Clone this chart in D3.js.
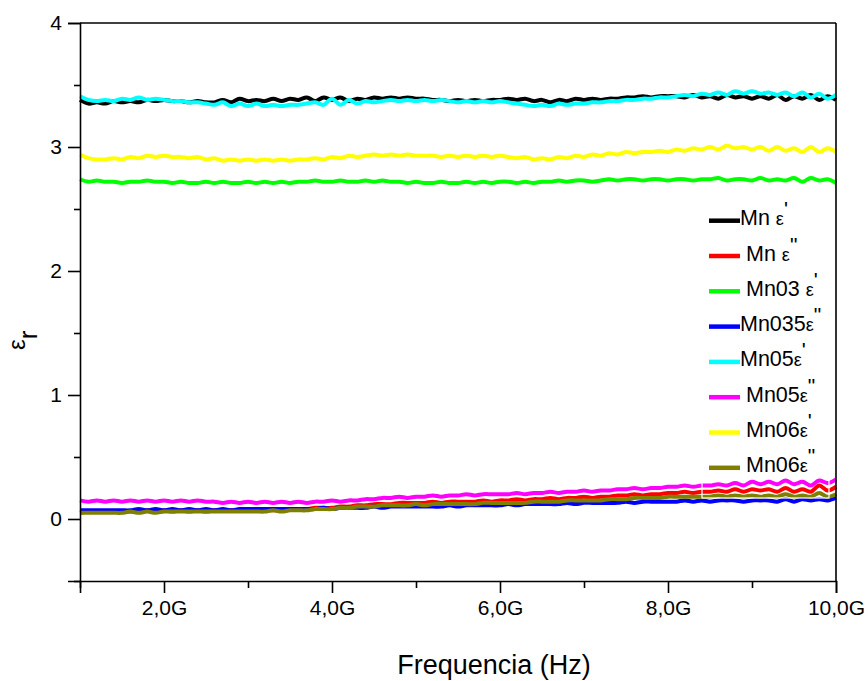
<!DOCTYPE html>
<html><head><meta charset="utf-8">
<script src="https://cdn.jsdelivr.net/npm/d3@7"></script>
<style>body{margin:0;background:#fff}text{font-family:"Liberation Sans",Arial,sans-serif;fill:#000}.tick text{font-size:21px}</style>
</head><body><svg id="c" width="868" height="681"></svg>
<script>
const freqGHz = [1.0,1.1,1.2,1.3,1.4,1.5,1.6,1.7,1.8,1.9,2.0,2.1,2.2,2.3,2.4,2.5,2.6,2.7,2.8,2.9,3.0,3.1,3.2,3.3,3.4,3.5,3.6,3.7,3.8,3.9,4.0,4.1,4.2,4.3,4.4,4.5,4.6,4.7,4.8,4.9,5.0,5.1,5.2,5.3,5.4,5.5,5.6,5.7,5.8,5.9,6.0,6.1,6.2,6.3,6.4,6.5,6.6,6.7,6.8,6.9,7.0,7.1,7.2,7.3,7.4,7.5,7.6,7.7,7.8,7.9,8.0,8.1,8.2,8.3,8.4,8.5,8.6,8.7,8.8,8.9,9.0,9.1,9.2,9.3,9.4,9.5,9.6,9.7,9.8,9.9,10.0];

const mnEps1 = [3.38,3.35,3.36,3.35,3.37,3.36,3.37,3.36,3.38,3.37,3.38, 3.37,3.37,3.36,3.37,3.36,3.36,3.38,3.36,3.39,3.37,3.38, 3.37,3.39,3.37,3.39,3.38,3.40,3.37,3.40,3.38,3.40, 3.37,3.39,3.38,3.40,3.39,3.40,3.39,3.40,3.39,3.39, 3.38,3.38,3.37,3.38,3.37,3.38,3.37,3.38,3.38,3.39, 3.38,3.39,3.37,3.38,3.36,3.38,3.37,3.39,3.38,3.39, 3.38,3.39,3.39,3.40,3.40,3.41,3.40,3.41,3.41,3.41, 3.40,3.42,3.40,3.41,3.39,3.42,3.40,3.41,3.39,3.41, 3.39,3.42,3.38,3.41,3.39,3.42,3.38,3.41,3.38,3.42];
const mnEps2 = [0.05,0.06,0.06,0.06,0.06,0.06,0.06,0.06,0.07,0.06,0.07, 0.06,0.07,0.06,0.07,0.06,0.07,0.07,0.07,0.07,0.07,0.07, 0.08,0.07,0.08,0.08,0.08,0.08,0.09,0.09,0.09,0.10, 0.10,0.11,0.11,0.12,0.12,0.12,0.13,0.13,0.13,0.13, 0.14,0.13,0.14,0.14,0.14,0.14,0.15,0.14,0.15,0.15, 0.16,0.15,0.16,0.16,0.17,0.16,0.17,0.17,0.18,0.17, 0.18,0.18,0.19,0.19,0.20,0.19,0.20,0.20,0.21,0.21, 0.22,0.21,0.22,0.22,0.23,0.22,0.24,0.22,0.24,0.23, 0.24,0.22,0.25,0.22,0.24,0.22,0.27,0.23,0.26,0.25];
const mn03Eps1 = [2.74,2.72,2.73,2.72,2.72,2.71,2.72,2.72,2.73,2.72,2.72, 2.71,2.72,2.71,2.71,2.72,2.71,2.72,2.71,2.71,2.72,2.71, 2.72,2.71,2.72,2.71,2.72,2.72,2.73,2.72,2.72,2.73, 2.72,2.72,2.73,2.72,2.73,2.72,2.72,2.71,2.72,2.71, 2.71,2.72,2.71,2.71,2.72,2.71,2.72,2.71,2.72,2.72, 2.71,2.72,2.71,2.72,2.72,2.73,2.72,2.73,2.73,2.72, 2.73,2.74,2.73,2.74,2.74,2.73,2.74,2.74,2.73,2.74, 2.74,2.73,2.74,2.74,2.75,2.73,2.74,2.74,2.73,2.75, 2.73,2.74,2.73,2.75,2.72,2.75,2.73,2.74,2.71,2.72];
const mn035Eps2 = [0.07,0.07,0.07,0.07,0.07,0.07,0.07,0.08,0.07,0.08,0.07, 0.08,0.07,0.08,0.07,0.08,0.07,0.08,0.07,0.08,0.08,0.08, 0.08,0.08,0.08,0.08,0.08,0.08,0.08,0.09,0.08,0.09, 0.09,0.09,0.09,0.10,0.09,0.10,0.10,0.10,0.10,0.10, 0.10,0.10,0.11,0.10,0.11,0.11,0.11,0.11,0.11,0.12, 0.11,0.12,0.12,0.12,0.12,0.12,0.13,0.12,0.13,0.13, 0.13,0.13,0.13,0.14,0.13,0.14,0.14,0.14,0.14,0.14, 0.15,0.14,0.15,0.14,0.15,0.15,0.15,0.14,0.15,0.15, 0.15,0.14,0.16,0.14,0.16,0.15,0.16,0.15,0.17,0.18];
const mn05Eps1 = [3.41,3.38,3.37,3.38,3.37,3.39,3.38,3.40,3.38,3.39,3.38, 3.37,3.37,3.36,3.36,3.35,3.34,3.36,3.33,3.35,3.33,3.35, 3.33,3.34,3.33,3.34,3.34,3.35,3.36,3.34,3.39,3.34, 3.38,3.35,3.37,3.36,3.37,3.38,3.37,3.38,3.37,3.38, 3.37,3.38,3.37,3.36,3.37,3.36,3.37,3.36,3.37,3.36, 3.35,3.34,3.33,3.34,3.33,3.35,3.34,3.35,3.35,3.36, 3.36,3.37,3.37,3.38,3.38,3.39,3.39,3.40,3.40,3.41, 3.42,3.41,3.43,3.42,3.44,3.42,3.45,3.43,3.45,3.43, 3.44,3.42,3.44,3.41,3.44,3.40,3.43,3.39,3.42,3.35];
const mn05Eps2 = [0.15,0.14,0.15,0.14,0.15,0.14,0.15,0.14,0.15,0.14,0.15, 0.14,0.15,0.14,0.15,0.14,0.14,0.13,0.14,0.13,0.14,0.13, 0.14,0.13,0.14,0.13,0.14,0.13,0.14,0.14,0.15,0.14, 0.15,0.15,0.16,0.16,0.17,0.17,0.18,0.17,0.18,0.18, 0.19,0.18,0.19,0.19,0.20,0.19,0.20,0.20,0.20,0.20, 0.21,0.20,0.21,0.21,0.22,0.21,0.22,0.22,0.23,0.22, 0.23,0.23,0.24,0.24,0.25,0.24,0.25,0.25,0.26,0.26, 0.27,0.26,0.27,0.27,0.28,0.27,0.29,0.27,0.30,0.28, 0.30,0.28,0.31,0.28,0.30,0.27,0.31,0.29,0.32,0.31];
const mn06Eps1 = [2.94,2.91,2.90,2.90,2.91,2.90,2.92,2.91,2.93,2.92,2.93, 2.92,2.92,2.91,2.92,2.90,2.91,2.89,2.90,2.89,2.90,2.89, 2.90,2.89,2.90,2.89,2.90,2.90,2.91,2.90,2.92,2.91, 2.93,2.92,2.93,2.94,2.93,2.94,2.93,2.94,2.93,2.93, 2.93,2.92,2.93,2.92,2.93,2.92,2.93,2.92,2.93,2.92, 2.91,2.92,2.90,2.91,2.90,2.92,2.91,2.93,2.92,2.94, 2.93,2.95,2.94,2.96,2.95,2.96,2.96,2.97,2.96,2.98, 2.97,2.99,2.98,3.00,2.98,3.01,2.99,3.00,2.98,3.00, 2.97,3.00,2.97,2.99,2.96,3.00,2.96,2.99,2.96,2.93];
const mn06Eps2 = [0.05,0.05,0.05,0.05,0.05,0.05,0.06,0.05,0.06,0.05,0.06, 0.06,0.06,0.06,0.06,0.06,0.06,0.06,0.06,0.06,0.06,0.06, 0.06,0.07,0.06,0.07,0.07,0.07,0.08,0.08,0.08,0.09, 0.09,0.10,0.10,0.10,0.11,0.11,0.11,0.11,0.12,0.11, 0.12,0.12,0.12,0.12,0.12,0.12,0.13,0.13,0.13,0.13, 0.13,0.13,0.14,0.14,0.14,0.14,0.15,0.15,0.15,0.15, 0.15,0.16,0.16,0.16,0.17,0.17,0.17,0.17,0.18,0.18, 0.18,0.18,0.18,0.18,0.19,0.18,0.19,0.18,0.19,0.18, 0.19,0.18,0.20,0.18,0.19,0.18,0.21,0.18,0.20,0.21];

const seriesNames = ["Mn ε'", "Mn ε\"", "Mn03 ε'", "Mn035ε\"", "Mn05ε'", "Mn05ε\"", "Mn06ε'", "Mn06ε\""];
const seriesValues = [mnEps1, mnEps2, mn03Eps1, mn035Eps2, mn05Eps1, mn05Eps2, mn06Eps1, mn06Eps2];
const seriesColors = ["#000000", "#ff0000", "#00ff00", "#0000ff", "#00ffff", "#ff00ff", "#ffff00", "#808000"];
const xTickValues = [2, 4, 6, 8, 10];
const xTickLabels = ["2,0G", "4,0G", "6,0G", "8,0G", "10,0G"];
const yTickValues = [0, 1, 2, 3, 4];

const svg = d3.select("#c");
const L = 80, R = 836, T = 23, B = 581;
const x = d3.scaleLinear().domain([1, 10]).range([L, R]);
const y = d3.scaleLinear().domain([-0.5, 4]).range([B, T]);

// data lines
const line = d3.line().x((d, i) => x(freqGHz[i])).y(d => y(d)).curve(d3.curveCatmullRom);
seriesValues.forEach((vals, k) => {
  svg.append("path").datum(vals).attr("d", line)
    .attr("fill", "none").attr("stroke", seriesColors[k]).attr("stroke-width", 4)
    .attr("stroke-linejoin", "round");
});

// legend box outline (white)
svg.append("rect").attr("x", 702).attr("y", 190).attr("width", 127).attr("height", 308)
  .attr("fill", "none").attr("stroke", "#fff").attr("stroke-width", 1.2);

// frame
svg.append("line").attr("x1", L).attr("x2", R).attr("y1", T).attr("y2", T).attr("stroke", "#000").attr("stroke-width", 1.6);
svg.append("line").attr("x1", R).attr("x2", R).attr("y1", T).attr("y2", B).attr("stroke", "#000").attr("stroke-width", 1.6);

const FONT = "Liberation Sans, Arial, sans-serif";
// x axis
const xAxis = d3.axisBottom(x).tickValues(xTickValues).tickSize(12).tickPadding(7)
  .tickFormat((d, i) => xTickLabels[i]);
const gx = svg.append("g").attr("transform", `translate(0,${B})`).call(xAxis);
gx.attr("font-size", 21).attr("font-family", FONT);
gx.select(".domain").attr("stroke-width", 1.6);
gx.selectAll(".tick line").attr("stroke-width", 1.6);
const gxm = svg.append("g").attr("transform", `translate(0,${B})`)
  .call(d3.axisBottom(x).tickValues([1, 3, 5, 7, 9]).tickSize(7).tickFormat(""));
gxm.select(".domain").remove();
gxm.selectAll(".tick line").attr("stroke-width", 1.6);

// y axis
const yAxis = d3.axisLeft(y).tickValues(yTickValues).tickSize(12).tickPadding(6).tickFormat(d3.format("d"));
const gy = svg.append("g").attr("transform", `translate(${L},0)`).call(yAxis);
gy.attr("font-size", 21).attr("font-family", FONT);
gy.select(".domain").attr("stroke-width", 1.6);
gy.selectAll(".tick line").attr("stroke-width", 1.6);
const gym = svg.append("g").attr("transform", `translate(${L},0)`)
  .call(d3.axisLeft(y).tickValues([-0.5, 0.5, 1.5, 2.5, 3.5]).tickSize(6).tickFormat(""));
gym.select(".domain").remove();
gym.selectAll(".tick line").attr("stroke-width", 1.6);

// axis titles
svg.append("text").attr("x", 494).attr("y", 674).attr("text-anchor", "middle")
  .attr("font-size", 27).text("Frequencia (Hz)");
const yt = svg.append("text").attr("transform", "translate(25,350) rotate(-90)")
  .attr("text-anchor", "start").attr("font-size", 24);
yt.append("tspan").text("ε");
yt.append("tspan").attr("font-size", 26).attr("dy", 12).text("r");

// legend
const legY0 = 220.7, legDY = 35.3;
const legTextX = [740, 746, 746, 740, 740, 746, 746, 746];
seriesNames.forEach((name, k) => {
  const cy = legY0 + k * legDY;
  svg.append("line").attr("x1", 709).attr("x2", 740).attr("y1", cy).attr("y2", cy)
    .attr("stroke", seriesColors[k]).attr("stroke-width", 4.5);
  const m = name.match(/^(.*?)(ε)(['"])$/);
  const t = svg.append("text").attr("x", legTextX[k]).attr("y", cy + 4.5).attr("font-size", 21.5);
  t.append("tspan").text(m[1]);
  t.append("tspan").attr("font-size", 18).text(m[2]);
  t.append("tspan").attr("font-size", 21).attr("dy", -9).text(m[3]);
});
</script></body></html>
